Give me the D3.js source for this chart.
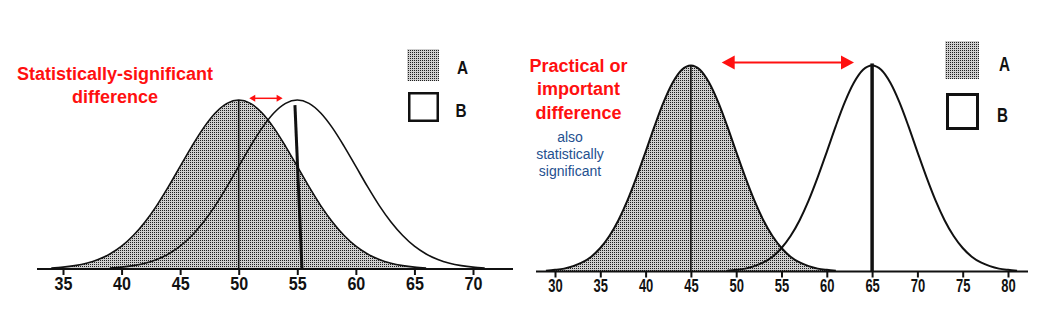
<!DOCTYPE html>
<html>
<head>
<meta charset="utf-8">
<script src="https://cdn.jsdelivr.net/npm/d3@7"></script>
<style>
  html, body { margin: 0; padding: 0; background: #fff; }
  svg { display: block; }
  text { font-family: "Liberation Sans", Arial, Helvetica, sans-serif; }
</style>
</head>
<body>
<svg id="chart" width="1061" height="324"></svg>
<script>
// ---------- data ----------
const leftTicks = [35, 40, 45, 50, 55, 60, 65, 70];
const rightTicks = [30, 35, 40, 45, 50, 55, 60, 65, 70, 75, 80];

// left panel: relative heights read at each unit along x
const leftAX = d3.range(34, 67);
const leftAY = [0.006,0.011,0.020,0.034,0.056,0.089,0.135,0.198,0.278,0.375,0.487,0.607,0.726,0.835,0.923,0.980,1.000,0.980,0.923,0.835,0.726,0.607,0.487,0.375,0.278,0.198,0.135,0.089,0.056,0.034,0.020,0.011,0.006];
const leftBX = d3.range(39, 72);
const leftBY = [0.006,0.011,0.020,0.034,0.056,0.089,0.135,0.198,0.278,0.375,0.487,0.607,0.726,0.835,0.923,0.980,1.000,0.980,0.923,0.835,0.726,0.607,0.487,0.375,0.278,0.198,0.135,0.089,0.056,0.034,0.020,0.011,0.006];

// right panel
const rightAX = d3.range(29, 62);
const rightAY = [0.004,0.008,0.014,0.026,0.044,0.072,0.114,0.172,0.249,0.345,0.458,0.581,0.707,0.823,0.917,0.979,1.000,0.979,0.917,0.823,0.707,0.581,0.458,0.345,0.249,0.172,0.114,0.072,0.044,0.026,0.014,0.008,0.004];
const rightBX = d3.range(49, 82);
const rightBY = [0.004,0.008,0.014,0.026,0.044,0.072,0.114,0.172,0.249,0.345,0.458,0.581,0.707,0.823,0.917,0.979,1.000,0.979,0.917,0.823,0.707,0.581,0.458,0.345,0.249,0.172,0.114,0.072,0.044,0.026,0.014,0.008,0.004];

// mean markers [x at top, x at bottom, top height]
const leftMeanA = [50, 50, 1.0];
const leftMeanB = [54.8, 55.4, 0.97];
const rightMeanA = [45, 45, 1.0];
const rightMeanB = [65, 65, 1.01];

// difference arrows [from, to, height]
const leftArrow = [50.9, 53.75, 1.01];
const rightArrow = [48.4, 63.0, 1.015];

const legendLabels = ["A", "B"];
const leftNote = ["Statistically-significant", "difference"];
const rightNote = ["Practical or", "important", "difference"];
const rightSubNote = ["also", "statistically", "significant"];

// ---------- drawing ----------
const svg = d3.select("#chart");
svg.append("rect").attr("width", 1061).attr("height", 324).attr("fill", "#fff");

const defs = svg.append("defs");
const pat = defs.append("pattern").attr("id", "stip")
  .attr("width", 2).attr("height", 2).attr("patternUnits", "userSpaceOnUse");
pat.append("rect").attr("width", 2).attr("height", 2).attr("fill", "#cfcfcf");
pat.append("rect").attr("width", 1).attr("height", 1).attr("fill", "#1e1e1e");

function panel(cfg) {
  const g = svg.append("g");
  const x = d3.scaleLinear().domain(cfg.xDomain).range(cfg.xRange);
  const y = d3.scaleLinear().domain([0, 1]).range([cfg.axisY, cfg.peakY]);

  const area = d3.area().x(d => x(d[0])).y0(y(0)).y1(d => y(d[1])).curve(d3.curveMonotoneX);
  const line = d3.line().x(d => x(d[0])).y(d => y(d[1])).curve(d3.curveMonotoneX);

  const A = cfg.ax.map((v, i) => [v, cfg.ay[i]]);
  const B = cfg.bx.map((v, i) => [v, cfg.by[i]]);

  g.append("path").attr("d", area(A)).attr("fill", "url(#stip)");
  g.append("path").attr("d", line(A)).attr("fill", "none").attr("stroke", "#111").attr("stroke-width", cfg.curveW);
  g.append("path").attr("d", line(B)).attr("fill", "none").attr("stroke", "#111").attr("stroke-width", cfg.curveW);

  // mean lines
  g.append("line")
    .attr("x1", x(cfg.meanA[0])).attr("y1", y(cfg.meanA[2]))
    .attr("x2", x(cfg.meanA[1])).attr("y2", y(0))
    .attr("stroke", "#111").attr("stroke-width", 1.6);
  g.append("line")
    .attr("x1", x(cfg.meanB[0])).attr("y1", y(cfg.meanB[2]))
    .attr("x2", x(cfg.meanB[1])).attr("y2", y(0))
    .attr("stroke", "#111").attr("stroke-width", cfg.meanBW);

  // axis baseline
  g.append("line").attr("x1", cfg.axisX0).attr("x2", cfg.axisX1)
    .attr("y1", cfg.axisY).attr("y2", cfg.axisY)
    .attr("stroke", "#111").attr("stroke-width", 2);

  const axis = g.append("g").attr("transform", `translate(0,${cfg.axisY})`)
    .call(d3.axisBottom(x).tickValues(cfg.ticks).tickSize(6).tickFormat(d3.format("d")));
  axis.attr("font-size", null).attr("font-family", null);
  axis.select(".domain").remove();
  axis.selectAll(".tick line").attr("stroke", "#111").attr("stroke-width", 2);
  axis.selectAll(".tick text")
    .attr("y", cfg.labelDY).attr("dy", null)
    .attr("fill", "#111")
    .style("font-size", cfg.tickFont + "px").style("font-weight", "bold")
    .style("font-family", '"Liberation Sans", Arial, sans-serif')
    .attr("transform", `scale(${cfg.tickScale},1)`);

  // arrow
  const ay = y(cfg.arrow[2]);
  const x0 = x(cfg.arrow[0]), x1 = x(cfg.arrow[1]);
  const hl = cfg.headL, hh = cfg.headH;
  g.append("line").attr("x1", x0 + hl * 0.5).attr("x2", x1 - hl * 0.5)
    .attr("y1", ay).attr("y2", ay).attr("stroke", "#ff1010").attr("stroke-width", cfg.arrowW);
  g.append("path").attr("d", `M${x0},${ay} L${x0 + hl},${ay - hh / 2} L${x0 + hl},${ay + hh / 2} Z`).attr("fill", "#ff1010");
  g.append("path").attr("d", `M${x1},${ay} L${x1 - hl},${ay - hh / 2} L${x1 - hl},${ay + hh / 2} Z`).attr("fill", "#ff1010");

  // legend
  const L = cfg.legend;
  g.append("rect").attr("x", L.ax).attr("y", L.ay).attr("width", L.aw).attr("height", L.ah)
    .attr("fill", "url(#stip)");
  g.append("rect").attr("x", L.bx + L.bs / 2).attr("y", L.by + L.bs / 2)
    .attr("width", L.bw - L.bs).attr("height", L.bh - L.bs)
    .attr("fill", "#fff").attr("stroke", "#111").attr("stroke-width", L.bs);
  legendLabels.forEach((t, i) => {
    g.append("text").text(t)
      .attr("transform", `translate(${L.tx[i]},${L.ty[i]}) scale(${L.tscale},1)`)
      .attr("text-anchor", "middle").attr("fill", "#111")
      .style("font-size", L.tfont + "px").style("font-weight", "bold");
  });
  return g;
}

panel({
  xDomain: [35, 70], xRange: [63, 473], axisY: 269, peakY: 100,
  axisX0: 37, axisX1: 513,
  ax: leftAX, ay: leftAY, bx: leftBX, by: leftBY,
  meanA: leftMeanA, meanB: leftMeanB, meanBW: 3,
  curveW: 1.6, ticks: leftTicks, labelDY: 21.5, tickFont: 17.5, tickScale: 0.92,
  arrow: leftArrow, headL: 6, headH: 7, arrowW: 1.5,
  legend: { ax: 407, ay: 49, aw: 32, ah: 32, bx: 408, by: 92, bw: 31, bh: 30, bs: 2.5,
            tx: [462.5, 461], ty: [73.5, 116.5], tfont: 18, tscale: 0.85 }
});

panel({
  xDomain: [30, 80], xRange: [555, 1008], axisY: 271.5, peakY: 65.5,
  axisX0: 536, axisX1: 1028,
  ax: rightAX, ay: rightAY, bx: rightBX, by: rightBY,
  meanA: rightMeanA, meanB: rightMeanB, meanBW: 3.5,
  curveW: 2, ticks: rightTicks, labelDY: 20.5, tickFont: 18, tickScale: 0.72,
  arrow: rightArrow, headL: 13, headH: 14, arrowW: 2,
  legend: { ax: 945, ay: 41, aw: 34, ah: 38, bx: 946, by: 93, bw: 33, bh: 37, bs: 3,
            tx: [1004.5, 1002.5], ty: [70.5, 122], tfont: 20, tscale: 0.76 }
});

// annotations
svg.append("g").selectAll("text").data(leftNote).join("text")
  .attr("x", 115).attr("y", (d, i) => 80 + i * 23.3)
  .attr("text-anchor", "middle").attr("fill", "#ff1010")
  .style("font-size", "18px").style("font-weight", "bold").text(d => d);

svg.append("g").selectAll("text").data(rightNote).join("text")
  .attr("x", 578.5).attr("y", (d, i) => 71.5 + i * 23.8)
  .attr("text-anchor", "middle").attr("fill", "#ff1010")
  .style("font-size", "18px").style("font-weight", "bold").text(d => d);

svg.append("g").selectAll("text").data(rightSubNote).join("text")
  .attr("x", 570).attr("y", (d, i) => 141.7 + i * 17.3)
  .attr("text-anchor", "middle").attr("fill", "#24508f")
  .style("font-size", "14px").text(d => d);
</script>
</body>
</html>
